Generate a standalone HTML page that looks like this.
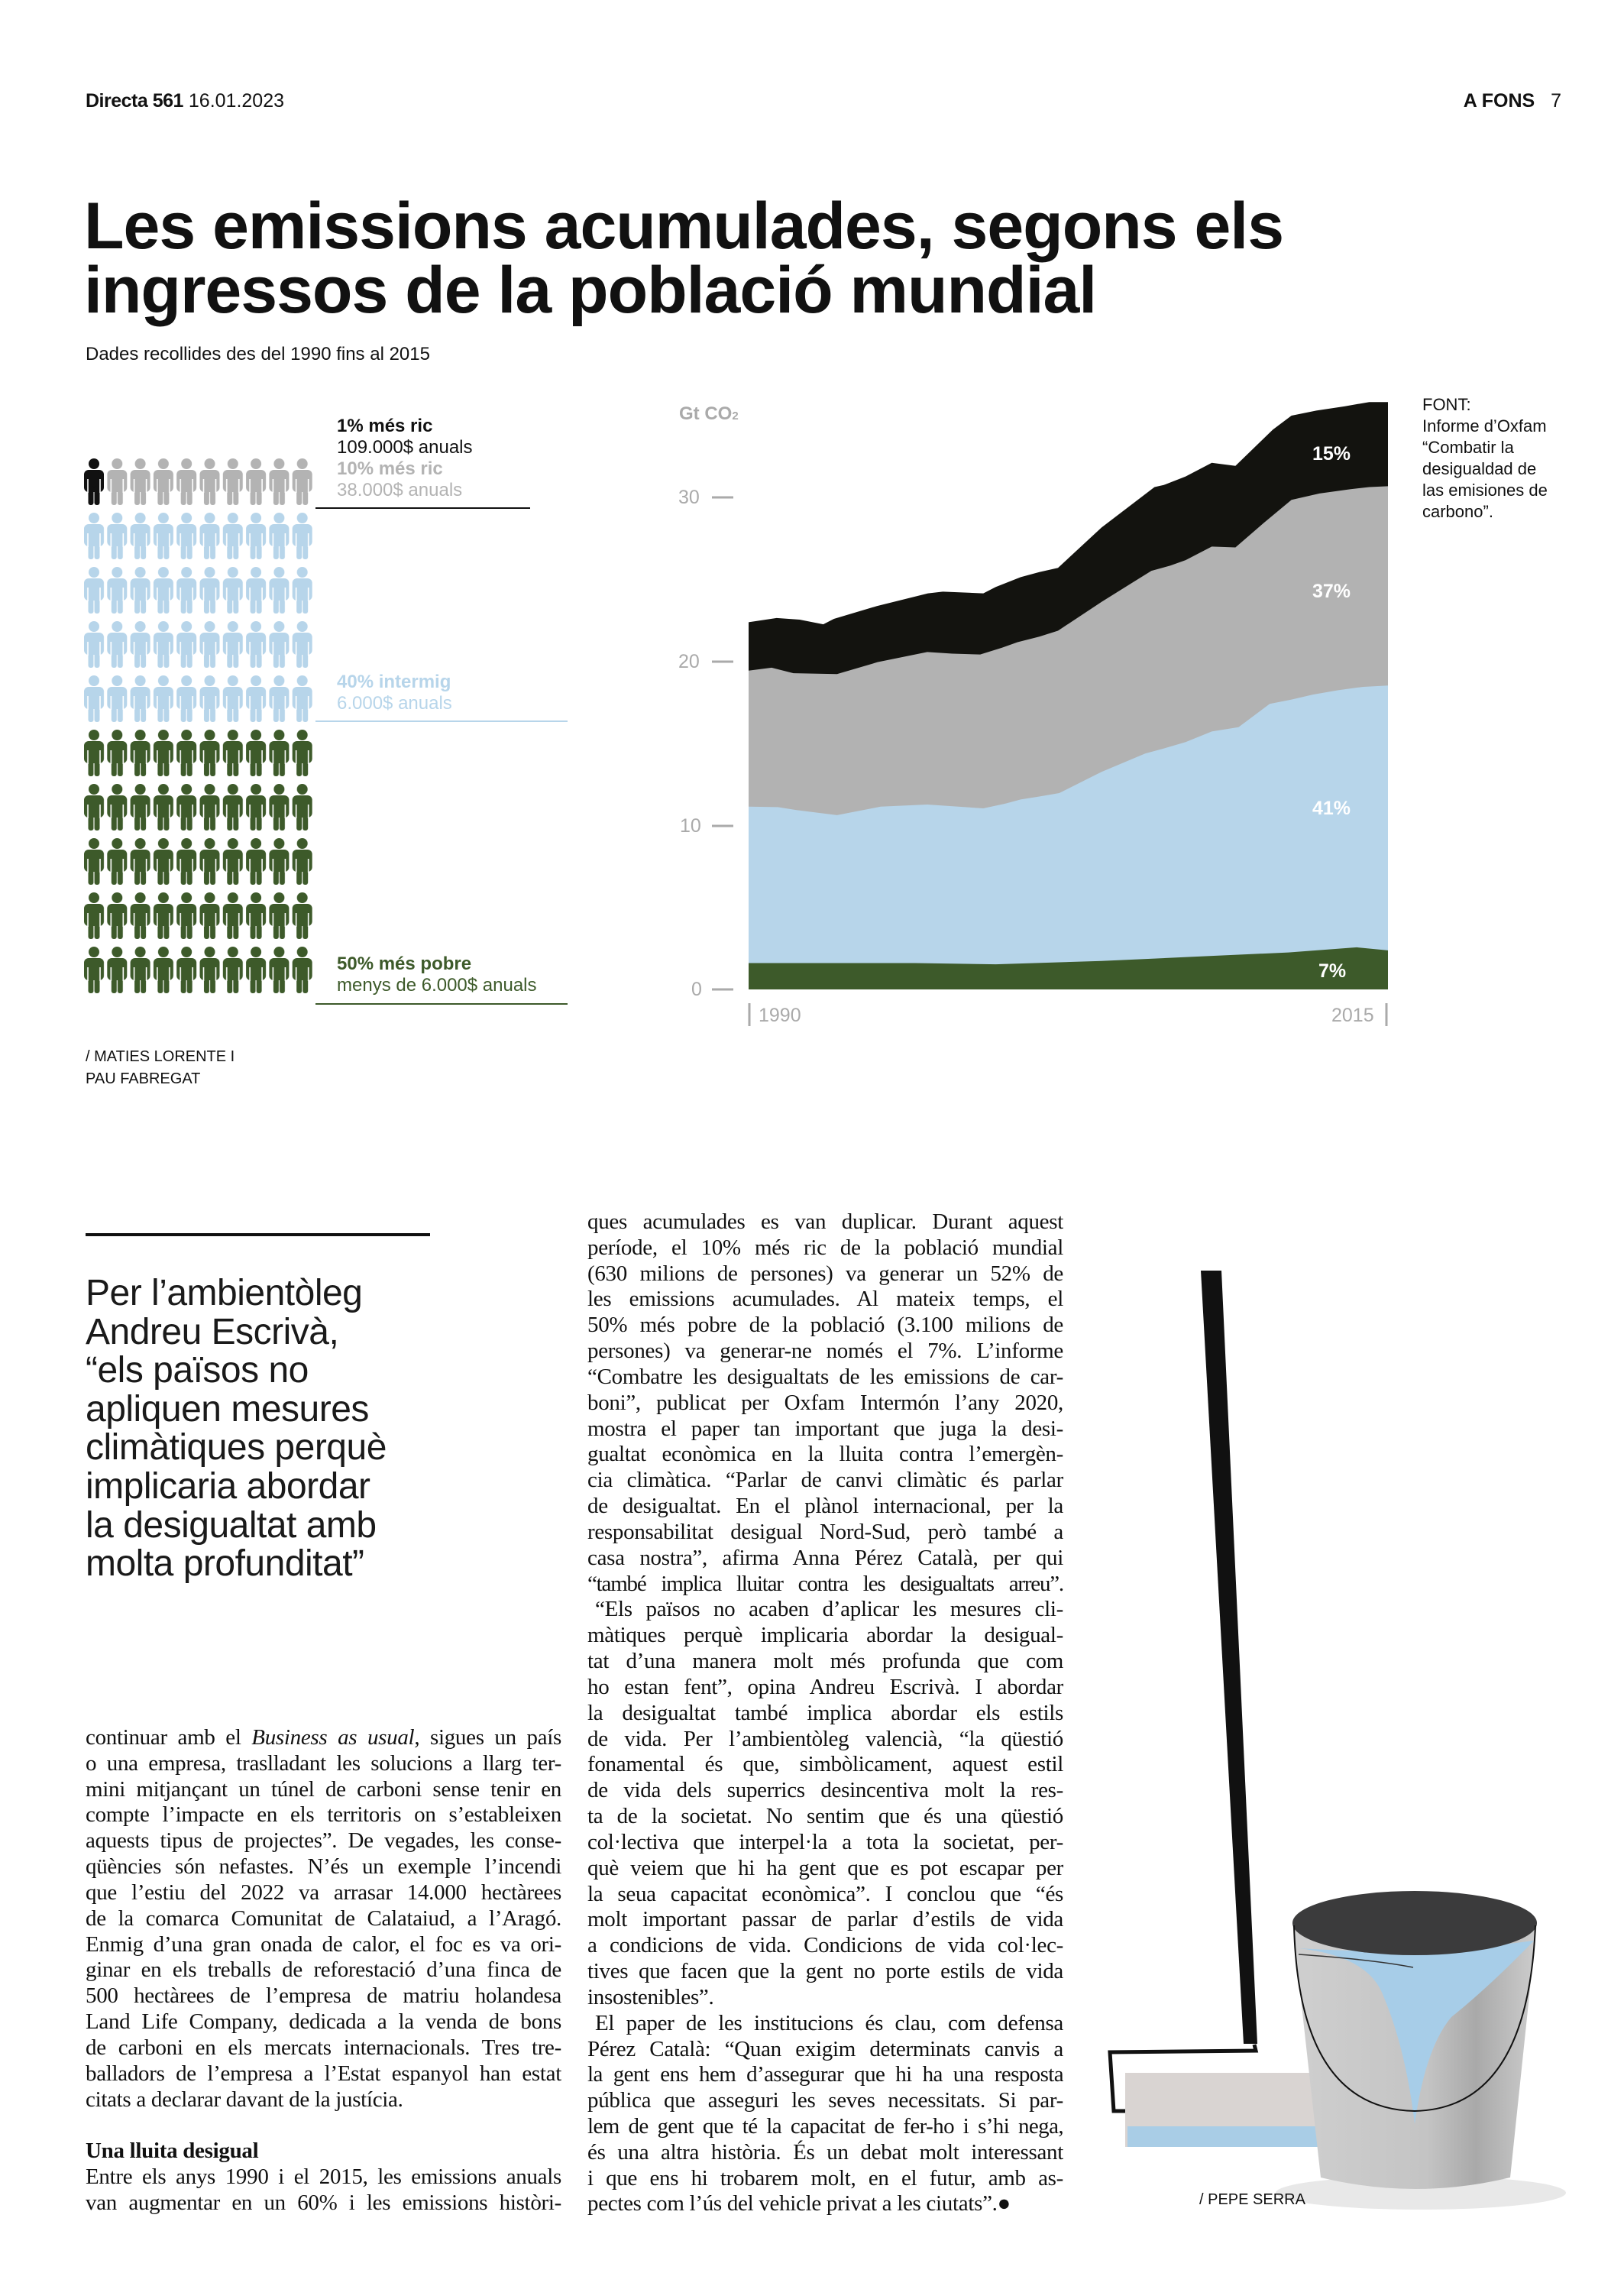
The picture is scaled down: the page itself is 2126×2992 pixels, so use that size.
<!DOCTYPE html>
<html><head><meta charset="utf-8">
<style>
html,body{margin:0;padding:0;background:#fff;}
body{width:2126px;height:2992px;position:relative;overflow:hidden;font-family:"Liberation Sans",sans-serif;color:#111;}
.a{position:absolute;white-space:nowrap;}
.col{position:absolute;font-family:"Liberation Serif",serif;font-size:29px;letter-spacing:-0.3px;line-height:33.84px;color:#111;}
.col div{text-align:justify;text-align-last:justify;height:33.84px;overflow:hidden;}
.col div.l{text-align-last:left;}
.col div.i{text-indent:10px;}
.pq{position:absolute;left:112px;top:1668px;font-size:48px;line-height:50.6px;color:#1a1a1a;letter-spacing:-0.5px;}
.lab{font-size:24px;line-height:28px;}
</style></head><body>

<div class="a" style="left:112px;top:118px;font-size:25px;"><b style="letter-spacing:-0.5px">Directa 561</b> 16.01.2023</div>
<div class="a" style="right:82px;top:118px;font-size:25px;"><b>A FONS</b>&nbsp;&nbsp; 7</div>

<div class="a" style="left:110px;top:254px;font-size:86px;font-weight:bold;line-height:84px;letter-spacing:-1px;">Les emissions acumulades, segons els<br>ingressos de la població mundial</div>
<div class="a" style="left:112px;top:450px;font-size:24px;">Dades recollides des del 1990 fins al 2015</div>

<svg class="a" style="left:0;top:0" width="2126" height="2992" viewBox="0 0 2126 2992">
<defs>
<g id="fig">
<circle cx="13" cy="7" r="7"/>
<rect x="0" y="15" width="26" height="29" rx="6"/>
<rect x="5.5" y="36" width="7" height="25" rx="3"/>
<rect x="13.5" y="36" width="7" height="25" rx="3"/>
<line x1="5" y1="27" x2="5" y2="45" stroke="#fff" stroke-width="1.6"/>
<line x1="21" y1="27" x2="21" y2="45" stroke="#fff" stroke-width="1.6"/>
<line x1="13" y1="44" x2="13" y2="61" stroke="#fff" stroke-width="1"/>
</g>
<pattern id="pg" patternUnits="userSpaceOnUse" x="110" y="600" width="30.3" height="71"><use href="#fig" fill="#b3b3b3"/></pattern>
<pattern id="pb" patternUnits="userSpaceOnUse" x="110" y="600" width="30.3" height="71"><use href="#fig" fill="#b7d5ea"/></pattern>
<pattern id="pn" patternUnits="userSpaceOnUse" x="110" y="600" width="30.3" height="71"><use href="#fig" fill="#3d5a2a"/></pattern>
<linearGradient id="bk" x1="0" x2="1" y1="0" y2="0">
<stop offset="0" stop-color="#cfcfcf"/><stop offset="0.55" stop-color="#c4c4c4"/><stop offset="0.75" stop-color="#a9a9a9"/><stop offset="1" stop-color="#cdcdcd"/></linearGradient>
</defs>
<g transform="translate(110,600)"><use href="#fig" fill="#111"/></g>
<rect x="140.3" y="600" width="272" height="70" fill="url(#pg)"/>
<rect x="110" y="671" width="303" height="284" fill="url(#pb)"/>
<rect x="110" y="955" width="303" height="355" fill="url(#pn)"/>
<line x1="413" y1="665" x2="694" y2="665" stroke="#111" stroke-width="2"/>
<line x1="413" y1="944" x2="743" y2="944" stroke="#b7d5ea" stroke-width="2"/>
<line x1="413" y1="1314" x2="743" y2="1314" stroke="#3d5a2a" stroke-width="2"/>

<svg x="980" y="504" width="837" height="791" viewBox="133 0 1027 1422" preserveAspectRatio="none">
<polygon fill="#13130f" points="133,558 178,548 215,552 253,563 270,550 339,520 421,490 445,486 510,490 530,475 570,452 600,440 630,430 700,335 785,240 800,235 835,215 877,183 915,190 975,105 1005,72 1045,60 1090,50 1130,40 1160,40 1160,1422 133,1422"/>
<polygon fill="#b2b2b2" points="133,672 170,665 205,678 275,680 340,652 420,628 460,632 505,634 540,618 565,605 600,592 630,578 700,510 780,437 810,425 835,412 877,380 915,382 960,325 1005,270 1050,255 1100,245 1130,240 1160,238 1160,1422 133,1422"/>
<polygon fill="#b7d5ea" points="133,992 180,993 210,1000 275,1012 345,992 420,987 470,992 510,996 545,985 570,975 600,968 632,960 700,910 770,867 800,855 835,840 877,815 920,805 970,750 1005,740 1040,728 1080,718 1120,710 1160,707 1160,1422 133,1422"/>
<polygon fill="#3d5a2a" points="133,1360 400,1360 530,1363 700,1355 850,1345 1000,1335 1110,1323 1160,1330 1160,1422 133,1422"/>
</svg>
<g stroke="#aaa" stroke-width="3">
<line x1="932" y1="651" x2="960" y2="651"/><line x1="932" y1="866" x2="960" y2="866"/>
<line x1="932" y1="1081" x2="960" y2="1081"/><line x1="932" y1="1295" x2="960" y2="1295"/>
<line x1="981" y1="1313" x2="981" y2="1343"/><line x1="1815" y1="1313" x2="1815" y2="1343"/>
</g>

<polygon points="1572,1663 1599,1663 1646,2675 1628,2675" fill="#111"/>
<polyline points="1642,2676 1644,2684 1453,2686 1458,2763 1488,2763" fill="none" stroke="#111" stroke-width="5"/>
<rect x="1473" y="2713" width="256" height="97" fill="#d9d4d2"/>
<rect x="1476" y="2783" width="253" height="27" fill="#a9cde6"/>
<ellipse cx="1860" cy="2870" rx="190" ry="22" fill="#e8e8e8"/>
<path d="M1692,2517 L1729,2850 Q1853,2880 1977,2850 L2012,2517 Z" fill="url(#bk)"/>
<path d="M1700,2550 Q1790,2560 1810,2610 Q1840,2680 1852,2780 Q1866,2680 1900,2640 Q1950,2600 2008,2540 Q1860,2560 1700,2550 Z" fill="#a7cde8"/>
<ellipse cx="1852" cy="2517" rx="160" ry="42" fill="#3b3b3c"/>
<path d="M1694,2520 Q1700,2760 1852,2763 Q2000,2760 2010,2520" fill="none" stroke="#111" stroke-width="2"/>
<path d="M1700,2558 Q1800,2565 1850,2575" fill="none" stroke="#333" stroke-width="1.5"/>
</svg>

<div class="a" style="left:889px;top:528px;font-size:24px;font-weight:bold;color:#aaa;">Gt CO<span style="font-size:15px">2</span></div>
<div class="a" style="left:888px;top:637px;font-size:25px;color:#aaa;">30</div>
<div class="a" style="left:888px;top:852px;font-size:25px;color:#aaa;">20</div>
<div class="a" style="left:890px;top:1067px;font-size:25px;color:#aaa;">10</div>
<div class="a" style="left:905px;top:1281px;font-size:25px;color:#aaa;">0</div>
<div class="a" style="left:993px;top:1315px;font-size:25px;color:#aaa;">1990</div>
<div class="a" style="left:1743px;top:1315px;font-size:25px;color:#aaa;">2015</div>
<div class="a" style="left:1718px;top:580px;font-size:25px;font-weight:bold;color:#fff;">15%</div>
<div class="a" style="left:1718px;top:760px;font-size:25px;font-weight:bold;color:#fff;">37%</div>
<div class="a" style="left:1718px;top:1044px;font-size:25px;font-weight:bold;color:#fff;">41%</div>
<div class="a" style="left:1726px;top:1257px;font-size:25px;font-weight:bold;color:#fff;">7%</div>
<div class="a" style="left:1862px;top:516px;font-size:22px;line-height:28px;">FONT:<br>Informe d’Oxfam<br>“Combatir la<br>desigualdad de<br>las emisiones de<br>carbono”.</div>

<div class="a lab" style="left:441px;top:544px;"><b>1% més ric</b><br>109.000$ anuals</div>
<div class="a lab" style="left:441px;top:600px;color:#b3b3b3;"><b>10% més ric</b><br>38.000$ anuals</div>
<div class="a lab" style="left:441px;top:879px;color:#b7d5ea;"><b>40% intermig</b><br>6.000$ anuals</div>
<div class="a lab" style="left:441px;top:1248px;color:#3d5a2a;"><b>50% més pobre</b><br>menys de 6.000$ anuals</div>
<div class="a" style="left:112px;top:1369px;font-size:20px;line-height:29px;">/ MATIES LORENTE I<br>PAU FABREGAT</div>

<div class="a" style="left:112px;top:1614px;width:451px;height:4px;background:#111;"></div>
<div class="pq">Per l’ambientòleg<br>Andreu Escrivà,<br>“els països no<br>apliquen mesures<br>climàtiques perquè<br>implicaria abordar<br>la desigualtat amb<br>molta profunditat”</div>

<div class="col" style="left:112px;top:2258px;width:623px;">
<div>continuar amb el <i>Business as usual</i>, sigues un país</div>
<div>o una empresa, traslladant les solucions a llarg ter-</div>
<div>mini mitjançant un túnel de carboni sense tenir en</div>
<div>compte l’impacte en els territoris on s’estableixen</div>
<div>aquests tipus de projectes”. De vegades, les conse-</div>
<div>qüències són nefastes. N’és un exemple l’incendi</div>
<div>que l’estiu del 2022 va arrasar 14.000 hectàrees</div>
<div>de la comarca Comunitat de Calataiud, a l’Aragó.</div>
<div>Enmig d’una gran onada de calor, el foc es va ori-</div>
<div>ginar en els treballs de reforestació d’una finca de</div>
<div>500 hectàrees de l’empresa de matriu holandesa</div>
<div>Land Life Company, dedicada a la venda de bons</div>
<div>de carboni en els mercats internacionals. Tres tre-</div>
<div>balladors de l’empresa a l’Estat espanyol han estat</div>
<div class="l">citats a declarar davant de la justícia.</div>
<div class="l"></div>
<div class="l"><b>Una lluita desigual</b></div>
<div>Entre els anys 1990 i el 2015, les emissions anuals</div>
<div>van augmentar en un 60% i les emissions històri-</div>
</div>

<div class="col" style="left:769px;top:1583px;width:623px;">
<div>ques acumulades es van duplicar. Durant aquest</div>
<div>període, el 10% més ric de la població mundial</div>
<div>(630 milions de persones) va generar un 52% de</div>
<div>les emissions acumulades. Al mateix temps, el</div>
<div>50% més pobre de la població (3.100 milions de</div>
<div>persones) va generar-ne només el 7%. L’informe</div>
<div>“Combatre les desigualtats de les emissions de car-</div>
<div>boni”, publicat per Oxfam Intermón l’any 2020,</div>
<div>mostra el paper tan important que juga la desi-</div>
<div>gualtat econòmica en la lluita contra l’emergèn-</div>
<div>cia climàtica. “Parlar de canvi climàtic és parlar</div>
<div>de desigualtat. En el plànol internacional, per la</div>
<div>responsabilitat desigual Nord-Sud, però també a</div>
<div>casa nostra”, afirma Anna Pérez Català, per qui</div>
<div style="letter-spacing:-1.2px">“també implica lluitar contra les desigualtats arreu”.</div>
<div class="i">“Els països no acaben d’aplicar les mesures cli-</div>
<div>màtiques perquè implicaria abordar la desigual-</div>
<div>tat d’una manera molt més profunda que com</div>
<div>ho estan fent”, opina Andreu Escrivà. I abordar</div>
<div>la desigualtat també implica abordar els estils</div>
<div>de vida. Per l’ambientòleg valencià, “la qüestió</div>
<div>fonamental és que, simbòlicament, aquest estil</div>
<div>de vida dels superrics desincentiva molt la res-</div>
<div>ta de la societat. No sentim que és una qüestió</div>
<div>col·lectiva que interpel·la a tota la societat, per-</div>
<div>què veiem que hi ha gent que es pot escapar per</div>
<div>la seua capacitat econòmica”. I conclou que “és</div>
<div>molt important passar de parlar d’estils de vida</div>
<div>a condicions de vida. Condicions de vida col·lec-</div>
<div>tives que facen que la gent no porte estils de vida</div>
<div class="l">insostenibles”.</div>
<div class="i">El paper de les institucions és clau, com defensa</div>
<div>Pérez Català: “Quan exigim determinats canvis a</div>
<div style="letter-spacing:-0.6px">la gent ens hem d’assegurar que hi ha una resposta</div>
<div>pública que asseguri les seves necessitats. Si par-</div>
<div style="letter-spacing:-0.6px">lem de gent que té la capacitat de fer-ho i s’hi nega,</div>
<div>és una altra història. És un debat molt interessant</div>
<div>i que ens hi trobarem molt, en el futur, amb as-</div>
<div class="l">pectes com l’ús del vehicle privat a les ciutats”.●</div>
</div>

<div class="a" style="left:1570px;top:2868px;font-size:20px;">/ PEPE SERRA</div>
</body></html>
